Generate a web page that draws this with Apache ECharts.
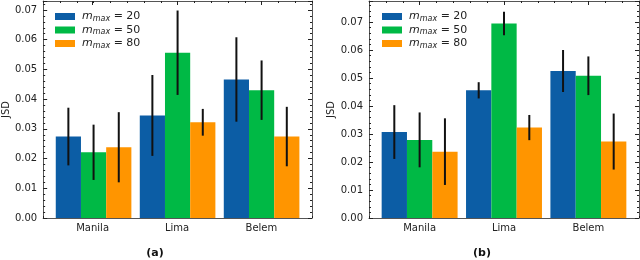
<!DOCTYPE html>
<html><head><meta charset="utf-8">
<script src="https://cdn.jsdelivr.net/npm/echarts@6/dist/echarts.min.js"></script>
<style>html,body{margin:0;padding:0;background:#fff}#c{width:640px;height:260px}</style>
</head><body><div id="c"></div>
<script>
// ---- data ----
const categories = ['Manila', 'Lima', 'Belem'];
const mmaxValues = [20, 50, 80];
const yTickLabelsA = ['0.00','0.01','0.02','0.03','0.04','0.05','0.06','0.07'];
const yTickLabelsB = ['0.00','0.01','0.02','0.03','0.04','0.05','0.06','0.07'];
// panel (a)
const jsdA_m20 = [0.0274, 0.0345, 0.0466];
const errA_m20 = [0.0097, 0.0136, 0.0142];
const jsdA_m50 = [0.0221, 0.0556, 0.0430];
const errA_m50 = [0.0093, 0.0142, 0.0100];
const jsdA_m80 = [0.0238, 0.0322, 0.0274];
const errA_m80 = [0.0118, 0.0045, 0.0100];
// panel (b)
const jsdB_m20 = [0.0307, 0.0456, 0.0525];
const errB_m20 = [0.0096, 0.0029, 0.0075];
const jsdB_m50 = [0.0279, 0.0695, 0.0508];
const errB_m50 = [0.0098, 0.0042, 0.0069];
const jsdB_m80 = [0.0237, 0.0323, 0.0273];
const errB_m80 = [0.0119, 0.0045, 0.0100];

const colors = ['#0C5DA5', '#00B945', '#FF9500'];
const FONT = 'DejaVu Sans';
const AX = '#555';
const TK = '#222';

const chart = echarts.init(document.getElementById('c'), null, {renderer: 'canvas'});

function rows(vals, errs) { return vals.map((v, i) => [i, v, errs[i]]); }

function makeRender(offset) {
  return function (params, api) {
    const x = api.value(0) + offset, y = api.value(1), e = api.value(2);
    const p0 = api.coord([x - 0.15, y]);
    const p1 = api.coord([x + 0.15, 0]);
    const t = api.coord([x, y + e]);
    const b = api.coord([x, y - e]);
    return {type: 'group', children: [
      {type: 'rect', shape: {x: p0[0], y: p0[1], width: p1[0] - p0[0], height: p1[1] - p0[1]},
       style: {fill: api.visual('color')}},
      {type: 'line', shape: {x1: t[0], y1: t[1], x2: b[0], y2: b[1]},
       style: {stroke: '#111', lineWidth: 2}}
    ]};
  };
}

const XMIN = -0.6, XMAX = 2.6;
const panelLeft = [42, 369], panelW = 270, panelTop = 1, panelH = 217;
const unit = panelW / (XMAX - XMIN);
const grids = [];
panelLeft.forEach(l => grids.push({left: l, top: panelTop, width: panelW, height: panelH}));
// helper grids spanning first..last category centre (for major x ticks and labels)
panelLeft.forEach(l => grids.push({left: l + (0 - XMIN) * unit, top: panelTop, width: (categories.length - 1) * unit, height: panelH}));

const yMax = [0.073, 0.0775];
const yLabels = [yTickLabelsA, yTickLabelsB];

const xAxis = [], yAxis = [];
[0, 1].forEach(gi => {
  const base = {type: 'value', gridIndex: gi, min: XMIN, max: XMAX, splitLine: {show: false}};
  xAxis.push(Object.assign({}, base, {position: 'bottom', interval: 0.2,
    axisLine: {show: true, onZero: false, lineStyle: {color: AX, width: 1}},
    axisTick: {show: true, inside: true, length: 2, lineStyle: {color: TK, width: 1}},
    axisLabel: {show: false}}));
  xAxis.push(Object.assign({}, base, {position: 'top', interval: 0.2,
    axisLine: {show: true, onZero: false, lineStyle: {color: AX, width: 1}},
    axisTick: {show: true, inside: true, length: 2, lineStyle: {color: TK, width: 1}},
    axisLabel: {show: false}}));

  const yb = {type: 'value', gridIndex: gi, min: 0, max: yMax[gi], interval: 0.01, splitLine: {show: false},
    minorTick: {show: true, splitNumber: 5, length: 2, lineStyle: {color: TK, width: 1}},
    minorSplitLine: {show: false}};
  yAxis.push(Object.assign({}, yb, {position: 'left',
    name: 'JSD', nameLocation: 'middle', nameGap: 29, nameRotate: 90,
    nameTextStyle: {color: '#222', fontFamily: FONT, fontSize: 10},
    axisLine: {show: true, onZero: false, lineStyle: {color: AX, width: 1}},
    axisTick: {show: true, inside: true, length: 4, lineStyle: {color: TK, width: 1}},
    axisLabel: {show: true, margin: 6, color: '#222', fontFamily: FONT, fontSize: 10, showMaxLabel: false,
      formatter: v => { const k = Math.round(v / 0.01); return Math.abs(v - k * 0.01) < 1e-9 ? (yLabels[gi][k] || '') : ''; }}}));
  yAxis.push(Object.assign({}, yb, {position: 'right',
    axisLine: {show: true, onZero: false, lineStyle: {color: AX, width: 1}},
    axisTick: {show: true, inside: true, length: 4, lineStyle: {color: TK, width: 1}},
    axisLabel: {show: false}}));
});
[2, 3].forEach(gi => {
  const base = {type: 'value', gridIndex: gi, min: 0, max: categories.length - 1, interval: 1, splitLine: {show: false}};
  xAxis.push(Object.assign({}, base, {position: 'bottom',
    axisLine: {show: false, onZero: false},
    axisTick: {show: true, inside: true, length: 4, lineStyle: {color: TK, width: 1}},
    axisLabel: {show: true, margin: 5, color: '#222', fontFamily: FONT, fontSize: 10,
      formatter: v => categories[Math.round(v)] || ''}}));
  xAxis.push(Object.assign({}, base, {position: 'top',
    axisLine: {show: false, onZero: false},
    axisTick: {show: true, inside: true, length: 4, lineStyle: {color: TK, width: 1}},
    axisLabel: {show: false}}));
  yAxis.push({type: 'value', gridIndex: gi, min: 0, max: 1, show: false});
});

const panelData = [
  [[jsdA_m20, errA_m20], [jsdA_m50, errA_m50], [jsdA_m80, errA_m80]],
  [[jsdB_m20, errB_m20], [jsdB_m50, errB_m50], [jsdB_m80, errB_m80]]
];
const offsets = [-0.3, 0, 0.3];
const series = [];
panelData.forEach((panel, gi) => {
  panel.forEach((d, si) => {
    series.push({
      type: 'custom', name: 'm' + mmaxValues[si],
      xAxisIndex: gi * 2, yAxisIndex: gi * 2,
      itemStyle: {color: colors[si]},
      renderItem: makeRender(offsets[si]),
      encode: {x: 0, y: 1},
      data: rows(d[0], d[1]),
      clip: true, silent: true, z: 1
    });
  });
});

const legendBase = {
  orient: 'vertical', itemWidth: 20, itemHeight: 7, itemGap: 2, icon: 'rect',
  data: mmaxValues.map(m => 'm' + m),
  formatter: name => '{m|m}{s|max}{n| = ' + name.slice(1) + '}',
  textStyle: {
    padding: [0, 0, 0, 2],
    rich: {
      m: {fontFamily: FONT, fontStyle: 'italic', fontSize: 11, color: '#222', lineHeight: 12},
      s: {fontFamily: FONT, fontStyle: 'italic', fontSize: 8, color: '#222', lineHeight: 10, verticalAlign: 'bottom'},
      n: {fontFamily: FONT, fontSize: 11, color: '#222', lineHeight: 12}
    }
  },
  selectedMode: false
};
const legend = [
  Object.assign({}, legendBase, {left: 50, top: 6}),
  Object.assign({}, legendBase, {left: 377, top: 6})
];

chart.setOption({
  animation: false,
  grid: grids,
  xAxis: xAxis,
  yAxis: yAxis,
  legend: legend,
  series: series,
  graphic: [
    {type: 'text', x: 155, y: 253, style: {text: '(a)', font: 'bold 11px "DejaVu Sans"', fill: '#111', textAlign: 'center', textVerticalAlign: 'middle'}},
    {type: 'text', x: 482, y: 253, style: {text: '(b)', font: 'bold 11px "DejaVu Sans"', fill: '#111', textAlign: 'center', textVerticalAlign: 'middle'}}
  ]
});
</script>
</body></html>
